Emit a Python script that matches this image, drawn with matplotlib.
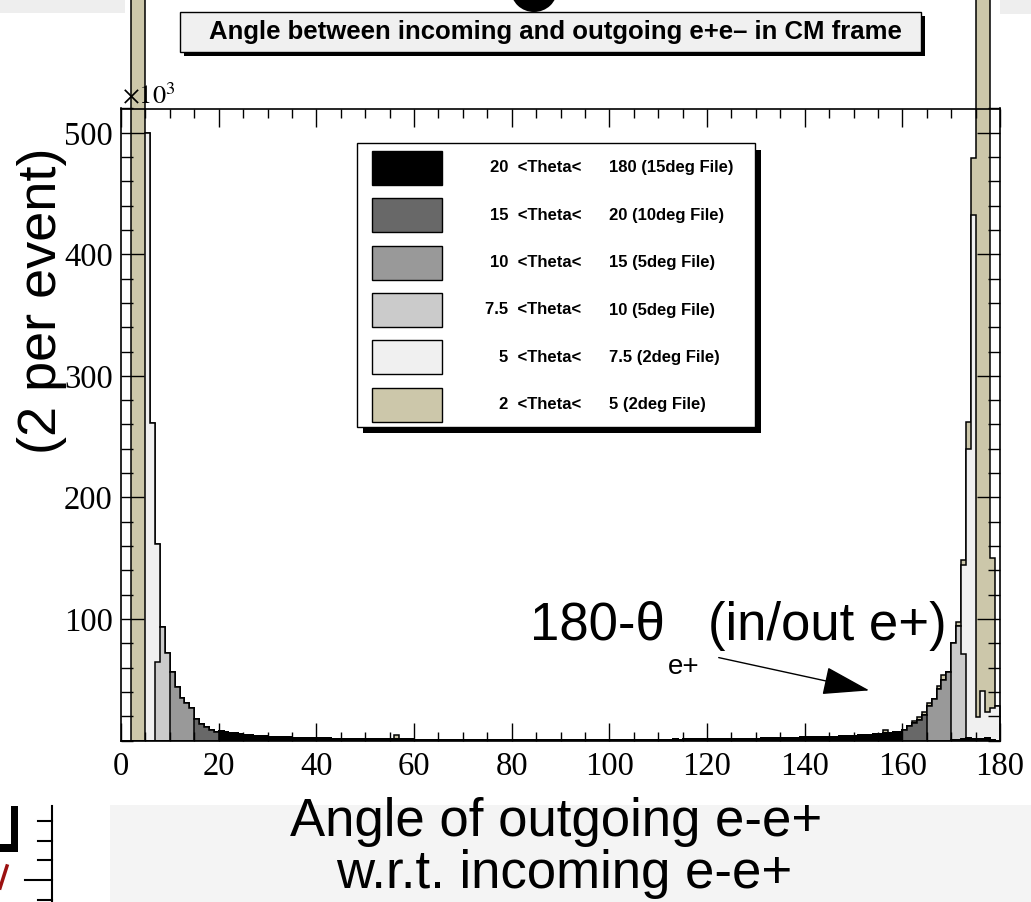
import numpy as np
import matplotlib
matplotlib.use("Agg")
from matplotlib import pyplot as plt
from matplotlib.patches import Rectangle, Ellipse, FancyArrowPatch
from matplotlib.lines import Line2D
from matplotlib.ticker import MultipleLocator, NullFormatter

W, H = 1031, 902

# 1 degree bins from 0 to 180
bin_edges = np.arange(0, 181)

# entries per bin in units of 1e3, given as (first bin, counts) runs
black_runs = [
    (20, [7.8, 7.1, 6.4, 5.9, 5.3, 4.8, 4.4, 4.0, 3.7, 3.4,
          3.2, 3.0, 2.8, 2.7, 2.5, 2.4, 2.3, 2.2, 2.1, 2.0,
          1.9, 1.8, 1.7, 1.6, 1.5, 1.4, 1.4, 1.3, 1.3, 1.2,
          1.2, 1.1, 1.1, 1.0, 1.0, 1.0, 0.9, 0.9, 0.9, 0.9,
          0.8, 0.8, 0.8, 0.8, 0.8, 0.7, 0.8, 0.7, 0.7, 0.8,
          0.7, 0.7, 0.7, 0.8, 0.7, 0.7, 0.7, 0.6, 0.7, 0.7,
          0.7, 0.7, 0.6, 0.7, 0.7, 0.7, 0.6, 0.7, 0.7, 0.7,
          0.7, 0.7, 0.6, 0.7, 0.7, 0.7, 0.7, 0.7, 0.6, 0.7,
          0.7, 0.7, 0.7, 0.7, 0.8, 0.7, 0.7, 0.8, 0.7, 0.8,
          0.8, 0.8, 0.8, 0.9, 0.8, 0.9, 0.9, 0.9, 1.0, 1.0,
          1.0, 1.1, 1.1, 1.2, 1.2, 1.3, 1.3, 1.4, 1.5, 1.5,
          1.6, 1.7, 1.8, 1.9, 2.0, 2.1, 2.2, 2.3, 2.4, 2.5,
          2.6, 2.7, 2.8, 2.9, 3.0, 3.1, 3.2, 3.4, 3.6, 3.8,
          4.0, 4.2, 4.4, 4.7, 5.0, 5.4, 5.8, 6.2, 6.8, 7.4]),
    (170, [0.5, 0.8, 1.5, 2.0, 1.2, 1.5, 1.0, 1.8, 0.8]),
]
darkgray_runs = [(15, [18.0, 13.6, 11.4, 8.6, 7.3]),
                 (160, [9.0, 12.0, 14.0, 17.0, 21.0])]
gray_runs = [(10, [56.6, 43.8, 34.7, 31.1, 26.5]),
             (165, [28.0, 34.0, 42.0, 50.0, 56.0])]
lightgray_runs = [(7, [65.0, 93.0, 72.0]),
                  (170, [80.0, 93.0, 70.0])]
light_runs = [(5, [500.0, 261.0, 97.0]),
              (172, [73.0, 238.0, 431.0]),
              (175, [18.0, 40.0, 22.0, 26.0, 28.0])]
tan_runs = [(2, [1500.0, 1500.0, 1500.0]),
            (56, [4.0]),
            (156, [3.0]),
            (162, [2.0, 2.5, 2.5, 3.0]),
            (167, [3.0, 4.0]),
            (171, [4.0, 4.0, 22.0, 47.0, 1500.0, 1500.0, 1500.0, 123.0])]

# stacked bottom to top, legend lists them in the same order from the top row
sample_runs = [black_runs, darkgray_runs, gray_runs, lightgray_runs, light_runs, tan_runs]
sample_colors = ["#000000", "#686868", "#999999", "#cbcbcb", "#f0f0f0", "#ccc7aa"]

legend_left = ["20  <Theta<", "15  <Theta<", "10  <Theta<",
               "7.5  <Theta<", "5  <Theta<", "2  <Theta<"]
legend_right = ["180 (15deg File)", "20 (10deg File)", "15 (5deg File)",
                "10 (5deg File)", "7.5 (2deg File)", "5 (2deg File)"]

x_ticks = np.arange(0, 181, 20)
y_ticks = [100, 200, 300, 400, 500]


def fx(x):
    return x / W


def fy(y):
    return 1 - y / H


def to_hist(runs):
    h = np.zeros(len(bin_edges) - 1)
    for start, vals in runs:
        h[start:start + len(vals)] += vals
    return h


def box(x0, y0, x1, y1, **kw):
    # rectangle from pixel corners (top-left x0,y0 to bottom-right x1,y1)
    return fig.add_artist(Rectangle((fx(x0), fy(y1)), (x1 - x0) / W, (y1 - y0) / H,
                                    transform=fig.transFigure, **kw))


plt.rcParams["mathtext.fontset"] = "stix"
fig = plt.figure(figsize=(W / 100, H / 100), dpi=100)
fig.patch.set_facecolor("white")

# slide background pieces
box(110, 805, 1031, 902, facecolor="#f4f4f4", edgecolor="none", zorder=-5)
box(0, 0, 125, 13, facecolor="#eeeeee", edgecolor="none", zorder=-5)
box(1000, 0, 1031, 14, facecolor="#eeeeee", edgecolor="none", zorder=-5)
fig.add_artist(Ellipse((fx(534), fy(-10)), 46 / W, 44 / H, transform=fig.transFigure,
                       facecolor="black", edgecolor="none"))

ax = fig.add_axes([fx(121), fy(740.5), (1000 - 121) / W, (740.5 - 108.5) / H])
ax.set_xlim(0, 180)
ax.set_ylim(0, 520)

stack = np.cumsum([to_hist(r) for r in sample_runs], axis=0)
top = len(sample_runs) - 1
for i in range(top, -1, -1):
    ax.stairs(stack[i], bin_edges, fill=True, facecolor=sample_colors[i],
              edgecolor="black", linewidth=1.1, clip_on=(i != top))

ax.set_xticks(x_ticks)
ax.xaxis.set_minor_locator(MultipleLocator(5))
ax.set_yticks(y_ticks)
ax.yaxis.set_minor_locator(MultipleLocator(20))
ax.yaxis.set_minor_formatter(NullFormatter())
ax.tick_params(which="both", direction="in", top=True, right=True, width=1.0)
ax.tick_params(axis="x", which="major", length=13, pad=8)
ax.tick_params(axis="x", which="minor", length=6.5)
ax.tick_params(axis="y", which="major", length=16.5, pad=6)
ax.tick_params(axis="y", which="minor", length=8.5)
for lab in ax.get_xticklabels() + ax.get_yticklabels():
    lab.set_fontfamily("Liberation Serif")
    lab.set_fontsize(23.5)
for s in ax.spines.values():
    s.set_linewidth(1.2)

fig.text(fx(122), fy(104), r"$\times10^{3}$", fontsize=19, ha="left", va="baseline")

# title box with shadow
box(184, 16, 925, 56, facecolor="black", edgecolor="none")
box(180, 12, 921, 52, facecolor="#f0f0f0", edgecolor="black", linewidth=1.0)
fig.text(fx(555), fy(32), "Angle between incoming and outgoing e+e\u2013 in CM frame",
         family="Liberation Sans", fontweight="bold", fontsize=18.5, ha="center", va="center")

# legend box with shadow
box(363, 150, 761, 433, facecolor="black", edgecolor="none")
box(357, 143.3, 755, 426.7, facecolor="white", edgecolor="black", linewidth=1.0)
for row in range(len(sample_colors)):
    yc = 167.8 + 47.4 * row
    box(372, yc - 17, 442, yc + 17, facecolor=sample_colors[row], edgecolor="black",
        linewidth=1.0)
    fig.text(fx(581), fy(yc), legend_left[row], family="Liberation Sans", fontweight="bold",
             fontsize=12, ha="right", va="center")
    fig.text(fx(609), fy(yc), legend_right[row], family="Liberation Sans", fontweight="bold",
             fontsize=12, ha="left", va="center")

# slide annotations
fig.text(fx(42), fy(301), "(2 per event)", family="Liberation Sans", fontsize=39,
         rotation=90, ha="center", va="center")
fig.text(fx(556), fy(836), "Angle of outgoing e-e+", family="Liberation Sans", fontsize=38,
         ha="center", va="baseline")
fig.text(fx(564), fy(888), "w.r.t. incoming e-e+", family="Liberation Sans", fontsize=38,
         ha="center", va="baseline")
fig.text(fx(530), fy(640), "180-\u03b8", family="Liberation Sans", fontsize=38,
         ha="left", va="baseline")
fig.text(fx(668), fy(674), "e+", family="Liberation Sans", fontsize=20,
         ha="left", va="baseline")
fig.text(fx(708), fy(640), "(in/out e+)", family="Liberation Sans", fontsize=38,
         ha="left", va="baseline")
fig.add_artist(FancyArrowPatch(
    (fx(716), fy(657)), (fx(872), fy(691)), transform=fig.transFigure,
    arrowstyle="-|>,head_length=1.5,head_width=0.45", mutation_scale=20,
    color="black", linewidth=1.0))

# corner logo fragments
box(11, 806, 18, 852, facecolor="black", edgecolor="none")
box(0, 844, 18, 852, facecolor="black", edgecolor="none")
fig.add_artist(Line2D([fx(0), fx(7)], [fy(888), fy(866)], transform=fig.transFigure,
                      color="#9b1010", linewidth=2.5))
fig.add_artist(Line2D([fx(52), fx(52)], [fy(806), fy(902)], transform=fig.transFigure,
                      color="black", linewidth=1.5))
for ty, tl in [(821, 14), (841, 14), (860, 14), (880, 27), (900, 14)]:
    fig.add_artist(Line2D([fx(52 - tl), fx(52)], [fy(ty), fy(ty)], transform=fig.transFigure,
                          color="black", linewidth=1.5))

fig.savefig("out.png", dpi=100)
